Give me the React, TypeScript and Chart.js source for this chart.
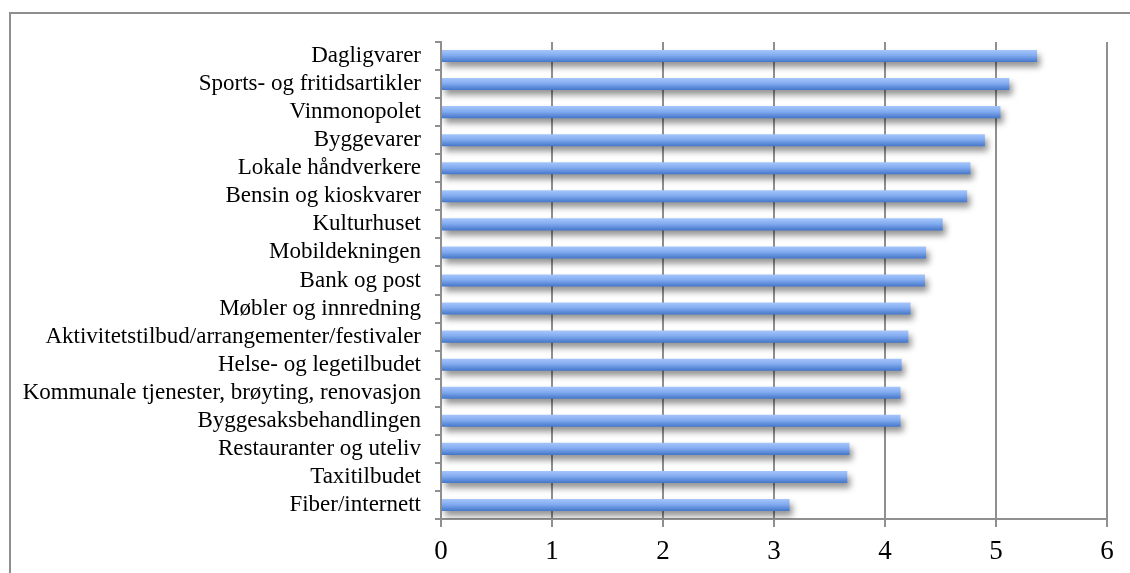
import React, { useEffect, useRef } from "react";
import { Chart, registerables } from "chart.js";

Chart.register(...registerables);

const categories: string[] = [
  "Dagligvarer",
  "Sports- og fritidsartikler",
  "Vinmonopolet",
  "Byggevarer",
  "Lokale håndverkere",
  "Bensin og kioskvarer",
  "Kulturhuset",
  "Mobildekningen",
  "Bank og post",
  "Møbler og innredning",
  "Aktivitetstilbud/arrangementer/festivaler",
  "Helse- og legetilbudet",
  "Kommunale tjenester, brøyting, renovasjon",
  "Byggesaksbehandlingen",
  "Restauranter og uteliv",
  "Taxitilbudet",
  "Fiber/internett",
];

const values: number[] = [
  5.37, 5.12, 5.04, 4.9, 4.77, 4.74, 4.52, 4.37, 4.36, 4.23, 4.21, 4.15, 4.14,
  4.14, 3.68, 3.66, 3.14,
];

const xTicks: number[] = [0, 1, 2, 3, 4, 5, 6];

const frame = {
  id: "frame",
  beforeDraw(chart: any) {
    const c = chart.ctx;
    c.save();
    c.fillStyle = "#ffffff";
    c.fillRect(0, 0, chart.width, chart.height);
    c.strokeStyle = "#8e8e8e";
    c.lineWidth = 2;
    c.beginPath();
    c.moveTo(10, chart.height + 2);
    c.lineTo(10, 13);
    c.lineTo(chart.width + 2, 13);
    c.stroke();
    c.restore();
  },
  beforeDatasetDraw(chart: any) {
    const c = chart.ctx;
    c.save();
    c.shadowColor = "rgba(0,0,0,0.42)";
    c.shadowBlur = 6;
    c.shadowOffsetX = 3;
    c.shadowOffsetY = 5;
  },
  afterDatasetDraw(chart: any) {
    chart.ctx.restore();
  },
};

export default function App() {
  const ref = useRef<HTMLCanvasElement | null>(null);

  useEffect(() => {
    if (!ref.current) return;
    const chart = new Chart(ref.current, {
      type: "bar",
      data: {
        labels: categories,
        datasets: [
          {
            data: values,
            categoryPercentage: 1,
            barPercentage: 0.43,
            backgroundColor: (ctx: any) => {
              const ch = ctx.chart;
              const ys = ch.scales && ch.scales.y;
              if (!ys || ctx.type !== "data") return "#6f9be6";
              const yc = ys.getPixelForValue(ctx.dataIndex);
              if (!Number.isFinite(yc)) return "#6f9be6";
              const g = ch.ctx.createLinearGradient(0, yc - 6, 0, yc + 6);
              g.addColorStop(0, "#a6c6fb");
              g.addColorStop(0.45, "#82abf0");
              g.addColorStop(1, "#4476c9");
              return g;
            },
            borderWidth: 0,
          },
        ],
      },
      options: {
        indexAxis: "y",
        responsive: false,
        animation: false,
        layout: { padding: { left: 0, top: 42, right: 23, bottom: 0 } },
        plugins: {
          legend: { display: false },
          tooltip: { enabled: false },
        },
        scales: {
          x: {
            min: 0,
            max: 6,
            afterBuildTicks: (s: any) => {
              s.ticks = xTicks.map((v) => ({ value: v }));
            },
            afterFit: (s: any) => {
              s.height = 54;
            },
            grid: {
              color: "#8f8f8f",
              lineWidth: 2,
              tickLength: 8,
            },
            border: { display: true, color: "#8f8f8f", width: 2 },
            ticks: {
              color: "#000000",
              padding: 9,
              font: { family: "'Liberation Serif', serif", size: 27 },
            },
          },
          y: {
            afterFit: (s: any) => {
              s.width = 441;
            },
            grid: {
              offset: true,
              drawOnChartArea: false,
              color: "#8f8f8f",
              lineWidth: 2,
              tickLength: 6,
            },
            border: { display: true, color: "#8f8f8f", width: 2 },
            ticks: {
              color: "#000000",
              padding: 14,
              autoSkip: false,
              font: { family: "'Liberation Serif', serif", size: 23 },
            },
          },
        },
      },
      plugins: [frame],
    });
    return () => chart.destroy();
  }, []);

  return (
    <div style={{ position: "fixed", left: 0, top: 0, width: 1130, height: 573 }}>
      <canvas ref={ref} width={1130} height={573} />
    </div>
  );
}
